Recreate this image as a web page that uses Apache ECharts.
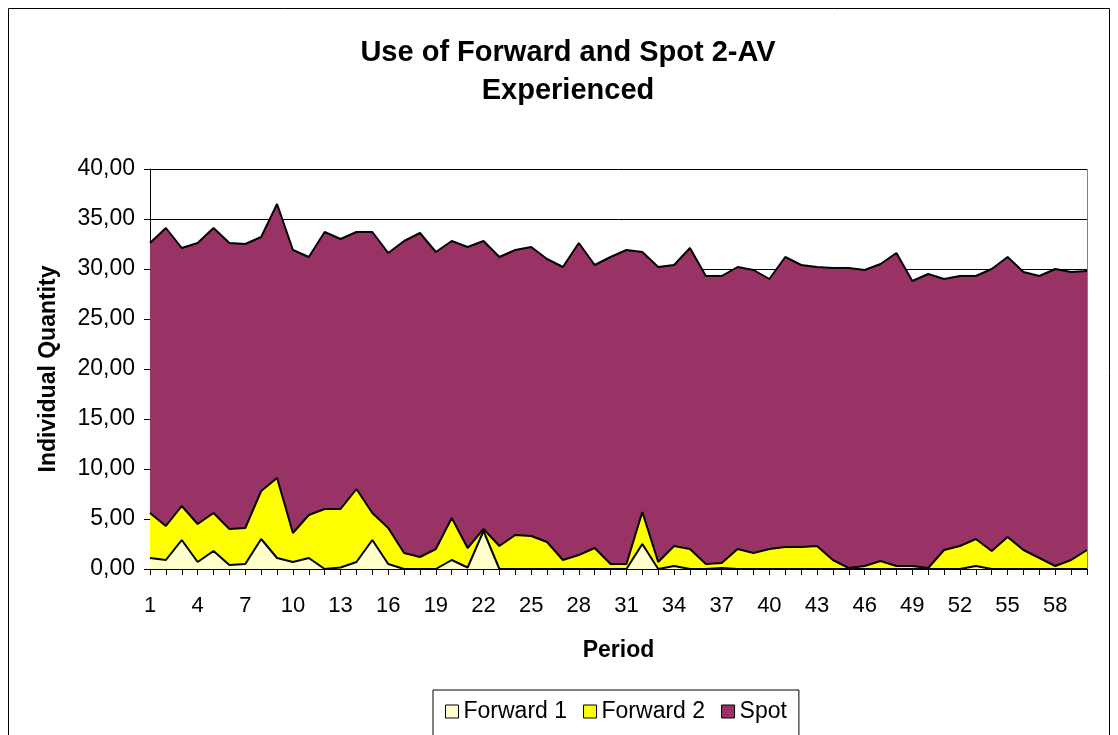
<!DOCTYPE html>
<html>
<head>
<meta charset="utf-8">
<title>Use of Forward and Spot 2-AV Experienced</title>
<script src="https://cdn.jsdelivr.net/npm/echarts@6/dist/echarts.min.js"></script>
<style>
  html, body { margin: 0; padding: 0; background: #fff; }
  #chart { width: 1118px; height: 735px; }
</style>
</head>
<body>
<div id="chart"></div>
<script>
// periods 1..60
const periods = Array.from({ length: 60 }, (_, i) => String(i + 1))

const forward1 = [
  1.1, 0.9, 2.9, 0.7, 1.8, 0.4, 0.5, 3.0, 1.1, 0.7,
  1.1, 0.0, 0.15, 0.7, 2.9, 0.5, 0.0, 0.0, 0.0, 0.9,
  0.15, 3.8, 0.0, 0.0, 0.0, 0.0, 0.0, 0.0, 0.0, 0.0,
  0.0, 2.5, 0.0, 0.3, 0.0, 0.0, 0.1, 0.0, 0.0, 0.0,
  0.0, 0.0, 0.0, 0.0, 0.0, 0.0, 0.0, 0.0, 0.0, 0.0,
  0.0, 0.0, 0.3, 0.0, 0.0, 0.0, 0.0, 0.0, 0.0, 0.0
]

const forward2 = [
  4.5, 3.4, 3.4, 3.8, 3.8, 3.6, 3.6, 4.8, 8.0, 2.9,
  4.3, 6.0, 5.85, 7.3, 2.7, 3.6, 1.6, 1.2, 2.0, 4.2,
  1.95, 0.2, 2.3, 3.4, 3.3, 2.7, 0.9, 1.4, 2.1, 0.5,
  0.5, 3.2, 0.7, 2.0, 2.0, 0.5, 0.5, 2.0, 1.6, 2.0,
  2.2, 2.2, 2.3, 0.9, 0.1, 0.3, 0.8, 0.3, 0.3, 0.1,
  1.9, 2.3, 2.7, 1.8, 3.2, 1.9, 1.1, 0.3, 0.9, 1.9
]

const spot = [
  27.0, 29.8, 25.8, 28.1, 28.5, 28.6, 28.4, 25.4, 27.4, 28.3,
  25.8, 27.7, 27.0, 25.7, 28.1, 27.5, 31.2, 32.4, 29.7, 27.7,
  30.1, 28.8, 28.9, 28.5, 28.9, 28.3, 29.3, 31.2, 28.3, 30.7,
  31.4, 26.0, 29.5, 28.1, 30.1, 28.8, 28.7, 28.2, 28.3, 27.0,
  29.0, 28.2, 27.9, 29.2, 30.0, 29.6, 29.7, 31.3, 28.5, 29.4,
  27.1, 27.0, 26.3, 28.2, 28.0, 27.8, 28.2, 29.7, 28.8, 27.9
]

const seriesNames = ['Forward 1', 'Forward 2', 'Spot']
const seriesColors = ['#FFFFCC', '#FFFF00', '#993366']

const chart = echarts.init(document.getElementById('chart'))
const font = 'Liberation Sans, Arial, sans-serif'

const makeSeries = (name, data, color) => ({
  name,
  type: 'line',
  stack: 'total',
  data,
  symbol: 'none',
  itemStyle: { color, borderColor: '#000', borderWidth: 1 },
  lineStyle: { color: '#000', width: 2 },
  areaStyle: { color, opacity: 1 }
})

chart.setOption({
  animation: false,
  backgroundColor: '#fff',
  textStyle: { fontFamily: font },
  title: {
    text: 'Use of Forward and Spot 2-AV\nExperienced',
    left: 563,
    top: 29,
    textAlign: 'center',
    textStyle: { fontSize: 29, fontWeight: 'bold', color: '#000', lineHeight: 38, fontFamily: font }
  },
  graphic: [{
    type: 'rect',
    shape: { x: 8.5, y: 8.5, width: 1101, height: 760 },
    style: { fill: 'none', stroke: '#000', lineWidth: 1 },
    silent: true
  }, {
    // plot area right border
    type: 'line',
    shape: { x1: 1087.5, y1: 169, x2: 1087.5, y2: 569 },
    style: { stroke: '#808080', lineWidth: 1 },
    silent: true,
    z: 10
  }],
  legend: {
    data: seriesNames,
    left: 433,
    top: 690,
    icon: 'rect',
    itemWidth: 13,
    itemHeight: 13,
    itemGap: 16,
    padding: [10, 12, 20, 12],
    borderColor: '#000',
    borderWidth: 1,
    backgroundColor: '#fff',
    itemStyle: { borderColor: '#000', borderWidth: 1 },
    textStyle: { fontSize: 23, color: '#000', fontFamily: font }
  },
  grid: { left: 150, right: 31, top: 169, bottom: 166, containLabel: false },
  xAxis: {
    type: 'category',
    data: periods,
    boundaryGap: false,
    name: 'Period',
    nameLocation: 'middle',
    nameGap: 70,
    nameTextStyle: { fontSize: 23, fontWeight: 'bold', color: '#000', fontFamily: font },
    axisLine: { lineStyle: { color: '#000', width: 1 } },
    axisTick: { show: true, interval: 0, length: 6, lineStyle: { color: '#000' } },
    axisLabel: { interval: 2, fontSize: 22, color: '#000', margin: 26, fontFamily: font },
    splitLine: { show: false }
  },
  yAxis: {
    type: 'value',
    min: 0,
    max: 40,
    interval: 5,
    name: 'Individual Quantity',
    nameLocation: 'middle',
    nameGap: 90,
    nameRotate: 90,
    nameTextStyle: { fontSize: 23, fontWeight: 'bold', color: '#000', fontFamily: font },
    axisLine: { show: true, lineStyle: { color: '#000', width: 1 } },
    axisTick: { show: true, length: 6, lineStyle: { color: '#000' } },
    axisLabel: {
      fontSize: 23,
      color: '#000',
      margin: 15,
      fontFamily: font,
      formatter: v => v.toFixed(2).replace('.', ',')
    },
    splitLine: { show: true, lineStyle: { color: '#000', width: 1 } }
  },
  series: [
    makeSeries(seriesNames[0], forward1, seriesColors[0]),
    makeSeries(seriesNames[1], forward2, seriesColors[1]),
    makeSeries(seriesNames[2], spot, seriesColors[2])
  ]
})
</script>
</body>
</html>
